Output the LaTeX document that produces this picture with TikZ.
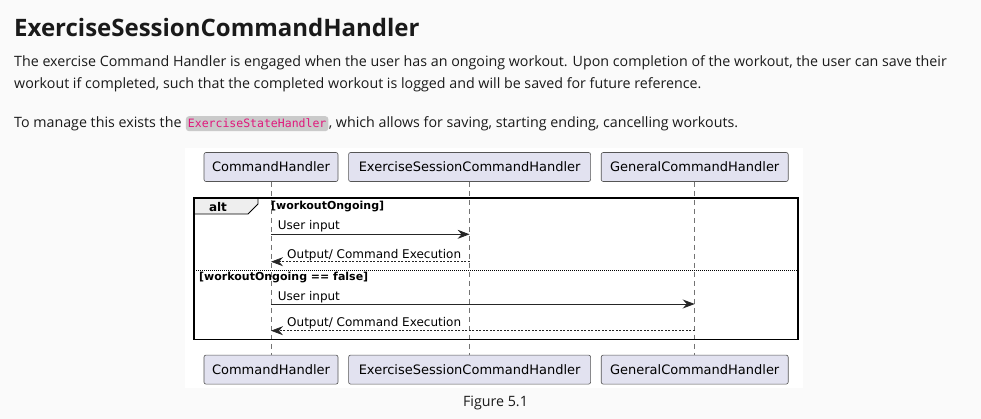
\documentclass[tikz,border=0pt]{standalone}
\usepackage{fontspec}
\setmainfont{Open Sans}
\newfontfamily\diagfont{DejaVu Sans}
\newfontfamily\codefont{DejaVu Sans Mono}
\usetikzlibrary{positioning, arrows.meta}

\definecolor{pagebg}{HTML}{FAFAFA}
\definecolor{boxfill}{HTML}{E2E2F0}
\definecolor{boxline}{HTML}{555555}
\definecolor{tabfill}{HTML}{EEEEEE}
\definecolor{codebg}{HTML}{CACACA}
\definecolor{codeink}{HTML}{E0187C}
\definecolor{bodyink}{HTML}{1A1A1A}

\tikzset{
    bodytext/.style = {anchor = base west, inner sep = 0pt, text = bodyink, font = \fontsize{14.25}{17}\selectfont},
    actorbox/.style = {draw = boxline, fill = boxfill, rounded corners = 2pt, line width = .6pt,
        minimum height = 29pt, inner xsep = 4pt, font = \diagfont\fontsize{13}{15}\selectfont},
    lifeline/.style = {line width = .5pt, gray!90!black, dash pattern = on 5pt off 4pt},
    msg/.style = {-{Stealth[length = 12pt, width = 9pt, inset = 4pt]}, line width = .9pt, black!85},
    reply/.style = {msg, line width = .7pt, dash pattern = on 2pt off 1.5pt},
    msglabel/.style = {anchor = base west, inner sep = 0pt, font = \diagfont\fontsize{12}{14}\selectfont},
    guard/.style = {anchor = base west, inner sep = 0pt, font = \diagfont\bfseries\fontsize{11}{13}\selectfont},
}

\begin{document}
\begin{tikzpicture}[x = 1pt, y = -1pt]
    \useasboundingbox[fill = pagebg] (0, 0) rectangle (981, 419);

    % page text
    \node[bodytext, font = \bfseries\fontsize{24}{28}\selectfont] (title) at (14, 36.7) {ExerciseSessionCommandHandler};
    \node[bodytext] (line1) at (14, 66.7) {The exercise Command Handler is engaged when the user has an ongoing workout. Upon completion of the workout, the user can save their};
    \node[bodytext] (line2) at (14, 89) {workout if completed, such that the completed workout is logged and will be saved for future reference.};
    \node[bodytext] (line3a) at (14, 128) {To manage this exists the};
    \node[anchor = base west, fill = codebg, rounded corners = 3pt, inner xsep = 2pt, inner ysep = 3pt,
        text = codeink, font = \codefont\fontsize{11.5}{14}\selectfont] (code) at ([xshift = 4pt]line3a.base east) {ExerciseStateHandler};
    \node[bodytext] (line3b) at (code.base east) {, which allows for saving, starting ending, cancelling workouts.};

    % diagram
    \fill[white] (185, 148) rectangle (803, 388);

    \node[actorbox, minimum width = 134pt] (ch) at (271, 167) {CommandHandler};
    \node[actorbox, minimum width = 242pt, right = 10pt of ch] (esch) {ExerciseSessionCommandHandler};
    \node[actorbox, minimum width = 187pt, right = 10pt of esch] (gch) {GeneralCommandHandler};
    \node[actorbox, minimum width = 134pt, below = 173pt of ch] (chb) {CommandHandler};
    \node[actorbox, minimum width = 242pt, below = 173pt of esch] (eschb) {ExerciseSessionCommandHandler};
    \node[actorbox, minimum width = 187pt, below = 173pt of gch] (gchb) {GeneralCommandHandler};

    \foreach \who in {ch, esch, gch}
        {
            \draw[lifeline] (\who.south) -- (\who b.north);
        }

    % alt frame
    \draw[line width = .8pt, fill = tabfill] (194, 198) -- (258, 198) -- (258, 204) -- (248, 214) -- (194, 214) -- cycle;
    \node[font = \diagfont\bfseries\fontsize{12}{14}\selectfont, inner sep = 0pt, anchor = base] (alt) at (218, 211.5) {alt};
    \draw[line width = 1.6pt] (194, 198) rectangle (798, 339.3);
    \draw[line width = .5pt, dash pattern = on 1pt off 1pt] (194, 270.7) -- (798, 270.7);
    \node[guard] (g1) at (271, 209.3) {[workoutOngoing]};
    \node[guard] (g2) at (199, 280) {[workoutOngoing == false]};

    % messages
    \coordinate (r1) at (0, 234.3);
    \coordinate (r2) at (0, 261.7);
    \coordinate (r3) at (0, 304);
    \coordinate (r4) at (0, 330.7);
    \draw[msg] (ch |- r1) -- (esch |- r1);
    \draw[reply] (esch |- r2) -- (ch |- r2);
    \draw[msg] (ch |- r3) -- (gch |- r3);
    \draw[reply] (gch |- r4) -- (ch |- r4);
    \node[msglabel] (m1) at (277.7, 230) {User input};
    \node[msglabel] (m2) at (287, 258.3) {Output/ Command Execution};
    \node[msglabel] (m3) at (277.7, 300) {User input};
    \node[msglabel] (m4) at (287, 326.7) {Output/ Command Execution};

    \node[bodytext, anchor = base] (caption) at (495.5, 406.5) {Figure 5.1};
\end{tikzpicture}
\end{document}
